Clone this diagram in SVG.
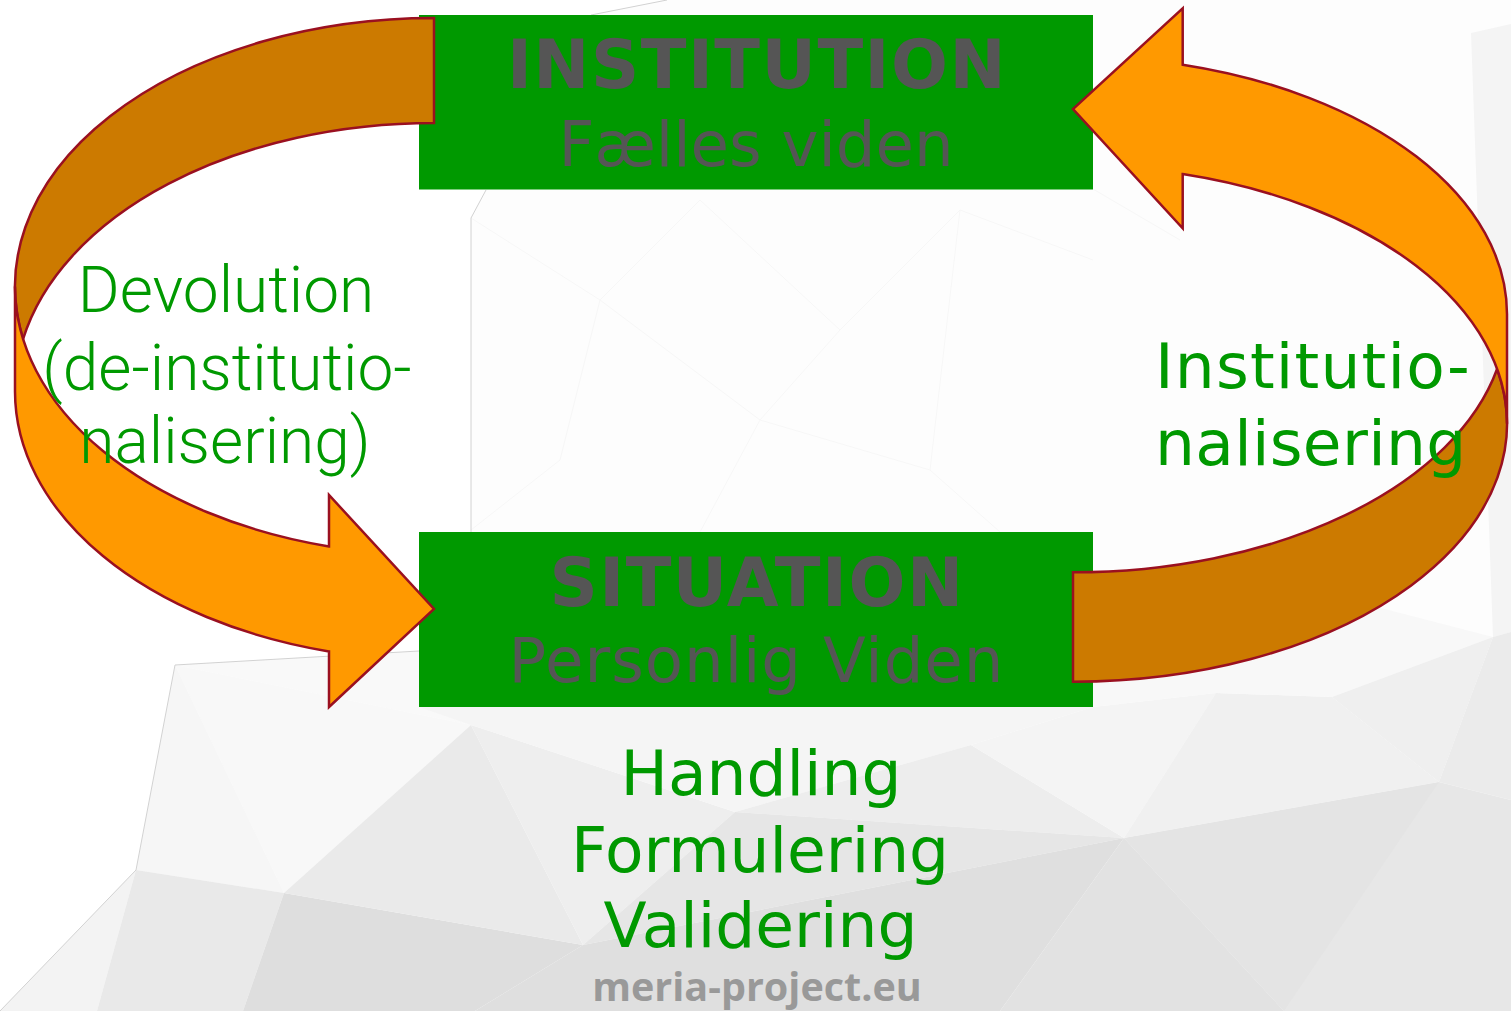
<svg xmlns="http://www.w3.org/2000/svg" width="1511" height="1011" viewBox="0 0 1511 1011">
  <style>
    .box { fill: #009900; }
    .title { font-family: "DejaVu Sans", Verdana, sans-serif; font-weight: bold; font-size: 67px; letter-spacing: 1.5px; fill: #555555; text-anchor: middle; }
    .sub { font-family: "DejaVu Sans", Verdana, sans-serif; font-size: 62.5px; fill: #555555; text-anchor: middle; }
    .lbl { font-family: "DejaVu Sans", Verdana, sans-serif; font-size: 63px; fill: #009900; }
    .dev { font-family: Roboto, "Liberation Sans", sans-serif; font-weight: 300; font-size: 64px; fill: #009900; text-anchor: middle; }
    .wm { font-family: "Open Sans", "Liberation Sans", sans-serif; font-weight: bold; font-size: 39.5px; fill: #999999; text-anchor: middle; }
    .back { fill: #CC7A00; stroke: #9A1020; stroke-width: 2.5; stroke-linejoin: miter; }
    .front { fill: #FF9900; stroke: #9A1020; stroke-width: 2.5; stroke-linejoin: miter; }
    .edge { fill: none; stroke: #d2d2d2; stroke-width: 1; }
    .faint { fill: none; stroke: #f7f7f7; stroke-width: 1; }
  </style>

  <g id="background">
    <rect x="0" y="0" width="1511" height="1011" fill="#ffffff"/>
    <path d="M0,1011 L136,870 L175,665 L419,651 L419,532 L471,532 L471,218 L486,190 L591,15 L667,0 L1511,0 L1511,1011 Z" fill="#fdfdfd"/>
    <path class="faint" d="M471,218 L600,300 L700,200 L840,330 L960,210 L1093,260 M600,300 L560,460 L471,530 M600,300 L760,420 L840,330 M760,420 L700,532 M760,420 L930,470 L960,210 M930,470 L1000,532 M1093,189 L1180,240"/>
    <polygon points="1471,33 1511,24 1511,632 1493,637" fill="#f4f4f4"/>
    <polygon points="175,665 419,651 471,725" fill="#f9f9f9"/>
    <polygon points="175,665 471,725 284,893" fill="#f8f8f8"/>
    <polygon points="175,665 284,893 136,870" fill="#f6f6f6"/>
    <polygon points="136,870 97,1011 0,1011" fill="#f3f3f3"/>
    <polygon points="136,870 284,893 243,1011 97,1011" fill="#e9e9e9"/>
    <polygon points="284,893 583,945 475,1011 243,1011" fill="#dedede"/>
    <polygon points="471,725 583,945 284,893" fill="#eaeaea"/>
    <polygon points="471,725 735,812 583,945" fill="#eeeeee"/>
    <polygon points="419,707 1093,707 971,745 735,812 471,725" fill="#f5f5f5"/>
    <polygon points="735,812 971,745 1124,838" fill="#ededed"/>
    <polygon points="583,945 735,812 1124,838" fill="#e6e6e6"/>
    <polygon points="583,945 1124,838 1000,1011 475,1011" fill="#dfdfdf"/>
    <polygon points="1124,838 1284,1011 1000,1011" fill="#e2e2e2"/>
    <polygon points="1124,838 1439,782 1511,800 1511,1011 1284,1011" fill="#e7e7e7"/>
    <polygon points="1124,838 1439,782 1284,1011" fill="#e4e4e4"/>
    <polygon points="971,745 1093,707 1216,693 1124,838" fill="#f4f4f4"/>
    <polygon points="1216,693 1332,697 1439,782 1124,838" fill="#f0f0f0"/>
    <polygon points="1093,707 1093,660 1350,600 1493,637 1332,697 1216,693" fill="#f8f8f8"/>
    <polygon points="1332,697 1493,637 1439,782" fill="#efefef"/>
    <polygon points="1493,637 1511,632 1511,800 1439,782" fill="#ebebeb"/>
    <path class="edge" d="M0,1011 L136,870 L175,665 L419,651"/>
    <path class="edge" d="M471,532 L471,218 L486,190"/>
    <path class="edge" d="M591,15 L667,0"/>
  </g>

  <g id="node-institution">
    <rect class="box" x="419" y="15" width="674" height="174.5"/>
    <text class="title" x="757" y="88">INSTITUTION</text>
    <text class="sub" x="756" y="165.5">Fælles viden</text>
  </g>

  <g id="node-situation">
    <rect class="box" x="419" y="532" width="674" height="175"/>
    <text class="title" x="757" y="606" letter-spacing="2">SITUATION</text>
    <text class="sub" x="756.5" y="682" letter-spacing="1">Personlig Viden</text>
  </g>

  <g id="connectors">
    <g id="arrow-devolution">
      <path class="back" d="M434,123 A419,268.5 0 0 0 23.1,339 A419,268.5 0 0 1 434,18 Z"/>
      <path class="front" d="M15,286.5 A419,268.5 0 0 0 329,546.4 L329,495 L434,609 L329,707 L329,651.4 A419,268.5 0 0 1 15,391.5 Z"/>
    </g>
    <g id="arrow-institutionalisering">
      <path class="back" d="M1073,572.3 A434,258 0 0 0 1497.1,369 A434,258 0 0 1 1073,681.7 Z"/>
      <path class="front" d="M1507,423.7 A434,258 0 0 0 1182.7,174.1 L1182.7,228.3 L1073,109 L1182.7,8.3 L1182.7,64.7 A434,258 0 0 1 1507,314.3 Z"/>
    </g>
  </g>

  <g id="label-devolution">
    <text class="dev" x="226" y="312">Devolution</text>
    <text class="dev" x="227" y="390">(de-institutio-</text>
    <text class="dev" x="225" y="463">nalisering)</text>
  </g>

  <g id="label-institutionalisering">
    <text class="lbl" x="1155" y="388" letter-spacing="1.2">Institutio-</text>
    <text class="lbl" x="1155" y="465" letter-spacing="0.3">nalisering</text>
  </g>

  <g id="label-phases">
    <text class="lbl" x="761" y="795" text-anchor="middle">Handling</text>
    <text class="lbl" x="760" y="872" text-anchor="middle">Formulering</text>
    <text class="lbl" x="760.5" y="947" text-anchor="middle">Validering</text>
  </g>

  <g id="watermark">
    <text class="wm" x="757" y="1001">meria-project.eu</text>
  </g>
</svg>
